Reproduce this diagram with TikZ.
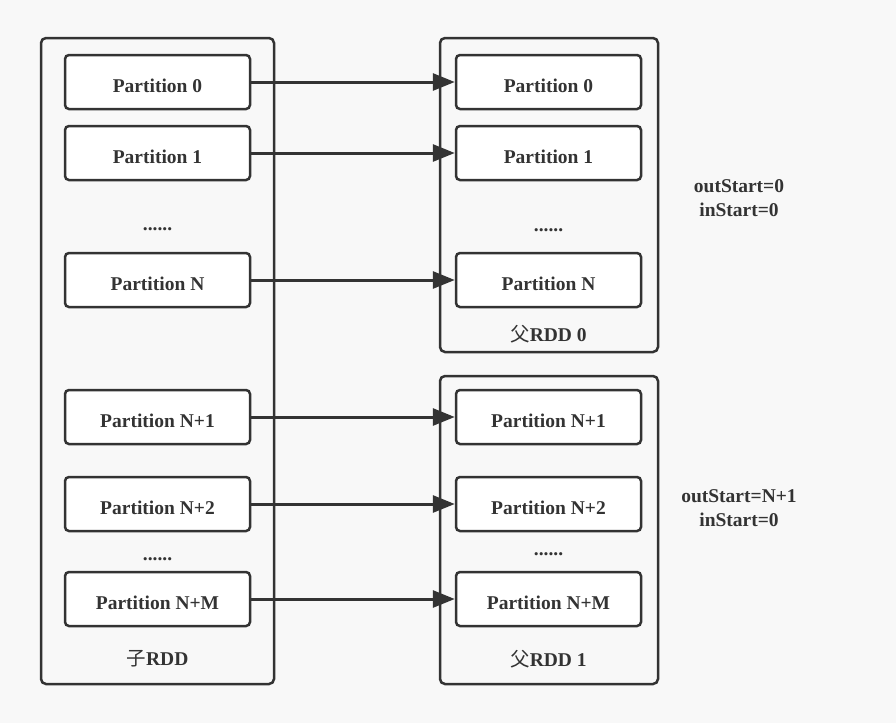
\documentclass[tikz,border=0pt]{standalone}
\usepackage{fontspec}
\setmainfont{Liberation Serif}
\newfontfamily\cjk{Noto Sans CJK SC}
\usetikzlibrary{arrows.meta}
\definecolor{linegray}{HTML}{333333}
\definecolor{bggray}{HTML}{F8F8F8}
\tikzset{
  part/.style={draw=linegray, line width=2.5pt, fill=white, rounded corners=4pt,
    minimum width=185pt, minimum height=54pt, inner sep=0pt},
  rdd/.style={draw=linegray, line width=2.5pt, rounded corners=5pt},
  lbl/.style={text=linegray, font=\bfseries\fontsize{19.5}{23.5}\selectfont, inner sep=0pt, anchor=base},
  dep/.style={draw=linegray, line width=3pt, -{Triangle[length=22pt, width=17pt]}}
}
\begin{document}
\begin{tikzpicture}[x=1pt, y=-1pt]
    \fill[bggray] (0,0) rectangle (896,723);
    \useasboundingbox (0,0) rectangle (896,723);
    % containers
    \draw[rdd] (41,38) rectangle (274,684);
    \draw[rdd] (440,38) rectangle (658,352);
    \draw[rdd] (440,376) rectangle (658,684);
    % child partitions
    \node[part] (c0) at (157.5,82) {};
    \node[part] (c1) at (157.5,153) {};
    \node[part] (cn) at (157.5,280) {};
    \node[part] (cn1) at (157.5,417) {};
    \node[part] (cn2) at (157.5,504) {};
    \node[part] (cnm) at (157.5,599) {};
    % parent partitions
    \node[part] (p0) at (548.5,82) {};
    \node[part] (p1) at (548.5,153) {};
    \node[part] (pn) at (548.5,280) {};
    \node[part] (pn1) at (548.5,417) {};
    \node[part] (pn2) at (548.5,504) {};
    \node[part] (pnm) at (548.5,599) {};
    % dependencies
    \draw[dep] (c0.east) -- (p0.west);
    \draw[dep] (c1.east) -- (p1.west);
    \draw[dep] (cn.east) -- (pn.west);
    \draw[dep] (cn1.east) -- (pn1.west);
    \draw[dep] (cn2.east) -- (pn2.west);
    \draw[dep] (cnm.east) -- (pnm.west);
    % labels
    \node[lbl] at ([yshift=-10pt]c0.center) {Partition 0};
    \node[lbl] at ([yshift=-10pt]c1.center) {Partition 1};
    \node[lbl] at ([yshift=-10pt]cn.center) {Partition N};
    \node[lbl] at ([yshift=-10pt]cn1.center) {Partition N+1};
    \node[lbl] at ([yshift=-10pt]cn2.center) {Partition N+2};
    \node[lbl] at ([yshift=-10pt]cnm.center) {Partition N+M};
    \node[lbl] at ([yshift=-10pt]p0.center) {Partition 0};
    \node[lbl] at ([yshift=-10pt]p1.center) {Partition 1};
    \node[lbl] at ([yshift=-10pt]pn.center) {Partition N};
    \node[lbl] at ([yshift=-10pt]pn1.center) {Partition N+1};
    \node[lbl] at ([yshift=-10pt]pn2.center) {Partition N+2};
    \node[lbl] at ([yshift=-10pt]pnm.center) {Partition N+M};
    \node[lbl] (cdots1) at (157.5,230) {......};
    \node[lbl] (cdots2) at (157.5,560) {......};
    \node[lbl] (pdots1) at (548.5,231) {......};
    \node[lbl] (pdots2) at (548.5,555) {......};
    \node[lbl] (child) at (157.5,665) {{\cjk\mdseries 子}RDD};
    \node[lbl] (par0) at (548.5,341) {{\cjk\mdseries 父}RDD 0};
    \node[lbl] (par1) at (548.5,666) {{\cjk\mdseries 父}RDD 1};
    \node[lbl] (out0) at (739,192) {outStart=0};
    \node[lbl] (in0) at (739,216) {inStart=0};
    \node[lbl] (out1) at (739,502) {outStart=N+1};
    \node[lbl] (in1) at (739,526) {inStart=0};
\end{tikzpicture}
\end{document}
